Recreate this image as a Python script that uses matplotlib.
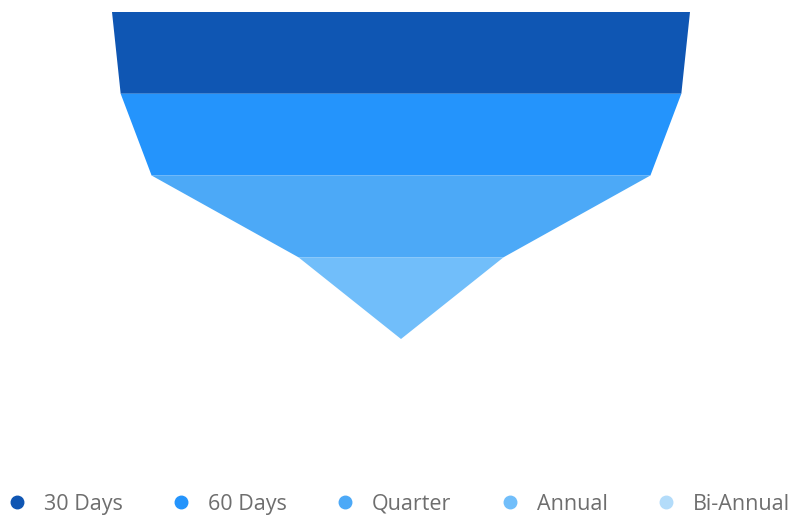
import matplotlib.pyplot as plt
from matplotlib.lines import Line2D

# funnel data (relative widths)
categories = ['30 Days', '60 Days', 'Quarter', 'Annual', 'Bi-Annual']
values = [100, 97, 86.3, 35.5, 0]
colors = ['#0F56B3', '#2494FC', '#4CA9F7', '#71BEFA', '#B3DCFA']

plt.rcParams['font.family'] = ['Open Sans', 'DejaVu Sans']

fig = plt.figure(figsize=(7.93, 5.15), dpi=100)
ax = fig.add_axes([112 / 793, 1 - 339 / 515, 578 / 793, 327 / 515])

# each slice goes from its own value to the next one
for i in range(len(categories) - 1):
    top = values[i] / 2
    bottom = values[i + 1] / 2
    xs = [-top, top, bottom, -bottom]
    ys = [i, i, i + 1, i + 1]
    ax.fill(xs, ys, color=colors[i], linewidth=0)

ax.set_xlim(-50, 50)
ax.set_ylim(len(categories) - 1, 0)
ax.axis('off')

handles = [Line2D([], [], marker='o', linestyle='', markersize=9,
                  markerfacecolor=c, markeredgecolor=c) for c in colors]
leg = fig.legend(handles, categories, loc='lower center', ncol=5,
                 bbox_to_anchor=(0.502, -0.037), frameon=False,
                 fontsize=15.5, handlelength=1.0, handletextpad=0.75,
                 columnspacing=2.2)
for t in leg.get_texts():
    t.set_color('#6e6e6e')

fig.savefig('out.png', dpi=100)
